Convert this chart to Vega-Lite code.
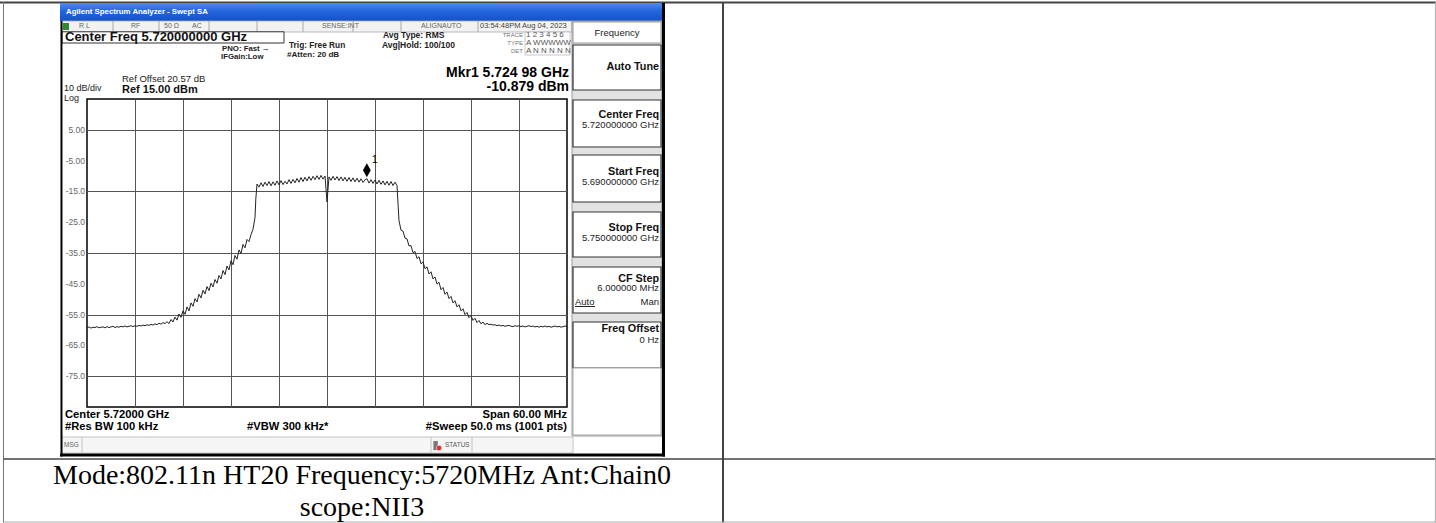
{
"$schema":"https://vega.github.io/schema/vega-lite/v6.json",
"width":480,"height":308,
"autosize":{"type":"none"},
"padding":{"left":87,"top":99,"right":869,"bottom":116},
"background":"#ffffff",
"config":{"view":{"stroke":"#000000","strokeWidth":1.5},"text":{"font":"Liberation Sans"}},
"data":{"values":[{}]},
"layer":[
{"data":{"values":[
{"f":5690.00,"p":-59.3},{"f":5690.25,"p":-59.0},{"f":5690.50,"p":-59.4},{"f":5690.75,"p":-59.1},{"f":5691.00,"p":-59.2},{"f":5691.25,"p":-58.9},{"f":5691.50,"p":-59.3},{"f":5691.75,"p":-59.1},
{"f":5692.00,"p":-59.0},{"f":5692.25,"p":-59.3},{"f":5692.50,"p":-58.9},{"f":5692.75,"p":-59.2},{"f":5693.00,"p":-59.0},{"f":5693.25,"p":-58.8},{"f":5693.50,"p":-59.2},{"f":5693.75,"p":-58.9},
{"f":5694.00,"p":-59.1},{"f":5694.25,"p":-58.8},{"f":5694.50,"p":-59.0},{"f":5694.75,"p":-58.7},{"f":5695.00,"p":-59.0},{"f":5695.25,"p":-58.8},{"f":5695.50,"p":-58.6},{"f":5695.75,"p":-58.9},
{"f":5696.00,"p":-58.6},{"f":5696.25,"p":-58.8},{"f":5696.50,"p":-58.5},{"f":5696.75,"p":-58.7},{"f":5697.00,"p":-58.4},{"f":5697.25,"p":-58.6},{"f":5697.50,"p":-58.3},{"f":5697.75,"p":-58.5},
{"f":5698.00,"p":-58.2},{"f":5698.25,"p":-58.4},{"f":5698.50,"p":-58.0},{"f":5698.75,"p":-58.3},{"f":5699.00,"p":-57.8},{"f":5699.25,"p":-58.1},{"f":5699.50,"p":-57.6},{"f":5699.75,"p":-57.9},
{"f":5700.00,"p":-57.3},{"f":5700.25,"p":-57.9},{"f":5700.50,"p":-56.6},{"f":5700.75,"p":-57.4},{"f":5701.00,"p":-55.8},{"f":5701.25,"p":-56.8},{"f":5701.50,"p":-54.8},{"f":5701.75,"p":-55.9},
{"f":5702.00,"p":-53.8},{"f":5702.25,"p":-54.9},{"f":5702.50,"p":-52.5},{"f":5702.75,"p":-53.8},{"f":5703.00,"p":-51.2},{"f":5703.25,"p":-52.3},{"f":5703.50,"p":-49.8},{"f":5703.75,"p":-50.9},
{"f":5704.00,"p":-48.4},{"f":5704.25,"p":-49.6},{"f":5704.50,"p":-47.1},{"f":5704.75,"p":-48.3},{"f":5705.00,"p":-45.9},{"f":5705.25,"p":-47.2},{"f":5705.50,"p":-44.8},{"f":5705.75,"p":-46.0},
{"f":5706.00,"p":-43.6},{"f":5706.25,"p":-44.8},{"f":5706.50,"p":-42.3},{"f":5706.75,"p":-43.4},{"f":5707.00,"p":-40.7},{"f":5707.25,"p":-42.0},{"f":5707.50,"p":-39.2},{"f":5707.75,"p":-40.5},
{"f":5708.00,"p":-37.5},{"f":5708.25,"p":-38.8},{"f":5708.50,"p":-35.8},{"f":5708.75,"p":-37.0},{"f":5709.00,"p":-34.0},{"f":5709.25,"p":-35.2},{"f":5709.50,"p":-32.2},{"f":5709.75,"p":-33.3},
{"f":5710.00,"p":-30.6},{"f":5710.25,"p":-31.3},{"f":5710.50,"p":-29.0},{"f":5710.75,"p":-27.3},{"f":5711.00,"p":-23.5},{"f":5711.10,"p":-17.5},{"f":5711.25,"p":-12.6},
{"f":5711.50,"p":-13.6},{"f":5711.75,"p":-12.2},{"f":5712.00,"p":-13.4},{"f":5712.25,"p":-12.0},{"f":5712.50,"p":-13.1},{"f":5712.75,"p":-11.8},{"f":5713.00,"p":-13.2},{"f":5713.25,"p":-11.9},
{"f":5713.50,"p":-13.0},{"f":5713.75,"p":-11.6},{"f":5714.00,"p":-12.9},{"f":5714.25,"p":-11.5},{"f":5714.50,"p":-12.8},{"f":5714.75,"p":-11.7},{"f":5715.00,"p":-12.6},{"f":5715.25,"p":-11.2},
{"f":5715.50,"p":-12.4},{"f":5715.75,"p":-11.1},{"f":5716.00,"p":-12.2},{"f":5716.25,"p":-10.8},{"f":5716.50,"p":-12.0},{"f":5716.75,"p":-10.5},{"f":5717.00,"p":-11.8},{"f":5717.25,"p":-10.4},
{"f":5717.50,"p":-11.6},{"f":5717.75,"p":-10.2},{"f":5718.00,"p":-11.4},{"f":5718.25,"p":-10.1},{"f":5718.50,"p":-11.2},{"f":5718.75,"p":-9.9},{"f":5719.00,"p":-11.1},{"f":5719.25,"p":-9.8},
{"f":5719.50,"p":-11.0},{"f":5719.75,"p":-10.0},{"f":5720.00,"p":-18.4},{"f":5720.25,"p":-10.3},{"f":5720.50,"p":-11.4},{"f":5720.75,"p":-10.1},{"f":5721.00,"p":-11.3},{"f":5721.25,"p":-10.2},
{"f":5721.50,"p":-11.5},{"f":5721.75,"p":-10.3},{"f":5722.00,"p":-11.6},{"f":5722.25,"p":-10.4},{"f":5722.50,"p":-11.7},{"f":5722.75,"p":-10.5},{"f":5723.00,"p":-11.8},{"f":5723.25,"p":-10.6},
{"f":5723.50,"p":-11.9},{"f":5723.75,"p":-10.7},{"f":5724.00,"p":-12.0},{"f":5724.25,"p":-10.9},{"f":5724.50,"p":-12.1},{"f":5724.75,"p":-11.2},{"f":5725.00,"p":-10.88},{"f":5725.25,"p":-12.3},
{"f":5725.50,"p":-11.2},{"f":5725.75,"p":-12.4},{"f":5726.00,"p":-11.3},{"f":5726.25,"p":-12.6},{"f":5726.50,"p":-11.4},{"f":5726.75,"p":-12.7},{"f":5727.00,"p":-11.6},{"f":5727.25,"p":-12.9},
{"f":5727.50,"p":-11.7},{"f":5727.75,"p":-13.0},{"f":5728.00,"p":-11.8},{"f":5728.25,"p":-13.1},{"f":5728.50,"p":-12.0},{"f":5728.75,"p":-13.1},
{"f":5728.90,"p":-20.0},{"f":5729.00,"p":-24.5},{"f":5729.25,"p":-27.6},{"f":5729.50,"p":-27.9},{"f":5729.75,"p":-30.2},{"f":5730.00,"p":-30.4},{"f":5730.25,"p":-32.7},{"f":5730.50,"p":-32.6},
{"f":5730.75,"p":-34.9},{"f":5731.00,"p":-34.5},{"f":5731.25,"p":-36.8},{"f":5731.50,"p":-36.2},{"f":5731.75,"p":-38.5},{"f":5732.00,"p":-37.9},{"f":5732.25,"p":-40.1},{"f":5732.50,"p":-39.5},
{"f":5732.75,"p":-41.8},{"f":5733.00,"p":-41.1},{"f":5733.25,"p":-43.4},{"f":5733.50,"p":-42.8},{"f":5733.75,"p":-45.1},{"f":5734.00,"p":-44.5},{"f":5734.25,"p":-46.9},{"f":5734.50,"p":-46.2},
{"f":5734.75,"p":-48.4},{"f":5735.00,"p":-47.7},{"f":5735.25,"p":-49.8},{"f":5735.50,"p":-49.1},{"f":5735.75,"p":-51.2},{"f":5736.00,"p":-50.5},{"f":5736.25,"p":-52.5},{"f":5736.50,"p":-51.8},
{"f":5736.75,"p":-53.8},{"f":5737.00,"p":-53.1},{"f":5737.25,"p":-55.0},{"f":5737.50,"p":-54.3},{"f":5737.75,"p":-56.0},{"f":5738.00,"p":-55.3},{"f":5738.25,"p":-56.9},{"f":5738.50,"p":-56.2},
{"f":5738.75,"p":-57.6},{"f":5739.00,"p":-56.9},{"f":5739.25,"p":-58.0},{"f":5739.50,"p":-57.4},{"f":5739.75,"p":-58.3},{"f":5740.00,"p":-57.8},
{"f":5740.25,"p":-58.3},{"f":5740.50,"p":-58.1},{"f":5740.75,"p":-58.4},{"f":5741.00,"p":-58.3},{"f":5741.25,"p":-58.6},{"f":5741.50,"p":-58.4},{"f":5741.75,"p":-58.7},{"f":5742.00,"p":-58.5},
{"f":5742.25,"p":-58.8},{"f":5742.50,"p":-58.6},{"f":5742.75,"p":-58.5},{"f":5743.00,"p":-58.8},{"f":5743.25,"p":-58.9},{"f":5743.50,"p":-58.6},{"f":5743.75,"p":-58.8},{"f":5744.00,"p":-58.6},
{"f":5744.25,"p":-58.9},{"f":5744.50,"p":-58.7},{"f":5744.75,"p":-59.0},{"f":5745.00,"p":-58.8},{"f":5745.25,"p":-58.6},{"f":5745.50,"p":-58.9},{"f":5745.75,"p":-58.7},{"f":5746.00,"p":-59.0},
{"f":5746.25,"p":-58.8},{"f":5746.50,"p":-59.1},{"f":5746.75,"p":-58.8},{"f":5747.00,"p":-59.0},{"f":5747.25,"p":-58.7},{"f":5747.50,"p":-59.0},{"f":5747.75,"p":-58.8},{"f":5748.00,"p":-59.1},
{"f":5748.25,"p":-58.9},{"f":5748.50,"p":-58.7},{"f":5748.75,"p":-59.0},{"f":5749.00,"p":-58.8},{"f":5749.25,"p":-59.1},{"f":5749.50,"p":-58.9},{"f":5749.75,"p":-58.7},{"f":5750.00,"p":-58.9}
]},
"mark":{"type":"line","color":"#222222","strokeWidth":1},
"encoding":{
"x":{"field":"f","type":"quantitative","scale":{"domain":[5690,5750],"nice":false,"zero":false},"axis":{"values":[5696,5702,5708,5714,5720,5726,5732,5738,5744],"labels":false,"ticks":false,"domain":false,"title":null,"grid":true,"gridColor":"#555555","gridWidth":1,"gridOpacity":1}},
"y":{"field":"p","type":"quantitative","scale":{"domain":[-85,15],"nice":false,"zero":false},"axis":{"values":[5,-5,-15,-25,-35,-45,-55,-65,-75],"labels":false,"ticks":false,"domain":false,"title":null,"grid":true,"gridColor":"#555555","gridWidth":1,"gridOpacity":1}}
}},
{"data":{"values":[{"v":5,"t":"5.00"},{"v":-5,"t":"-5.00"},{"v":-15,"t":"-15.0"},{"v":-25,"t":"-25.0"},{"v":-35,"t":"-35.0"},{"v":-45,"t":"-45.0"},{"v":-55,"t":"-55.0"},{"v":-65,"t":"-65.0"},{"v":-75,"t":"-75.0"}]},
"mark":{"type":"text","align":"right","baseline":"middle","fontSize":8.5,"fill":"#666666"},
"encoding":{"y":{"field":"v","type":"quantitative"},"x":{"datum":5689.75},"text":{"field":"t"}}},
{"data":{"values":[{"f":5724.98,"p":-10.879,"label":"1"}]},
"layer":[
{"mark":{"type":"point","shape":"M0,-1L0.55,0L0,1L-0.55,0Z","size":200,"filled":true,"color":"#000000","opacity":1,"yOffset":-8.5},"encoding":{"x":{"field":"f","type":"quantitative"},"y":{"field":"p","type":"quantitative"}}},
{"mark":{"type":"text","dx":8,"dy":-19,"fontSize":10,"color":"#000000","fill":"#000000"},"encoding":{"x":{"field":"f","type":"quantitative"},"y":{"field":"p","type":"quantitative"},"text":{"field":"label"}}}
]},

{"mark":{"type":"rule","stroke":"#444444","strokeWidth":2},"encoding":{"y":{"datum":46.33},"x":{"datum":5679.125},"x2":{"datum":5858.625}}},
{"mark":{"type":"rule","stroke":"#777777","strokeWidth":1},"encoding":{"x":{"datum":5679.56},"y":{"datum":46.49},"y2":{"datum":-122.5}}},
{"mark":{"type":"rule","stroke":"#444444","strokeWidth":2},"encoding":{"x":{"datum":5769.5},"y":{"datum":46.49},"y2":{"datum":-122.5}}},
{"mark":{"type":"rule","stroke":"#444444","strokeWidth":1.5},"encoding":{"y":{"datum":-101.88},"x":{"datum":5679.56},"x2":{"datum":5858.625}}},
{"mark":{"type":"rule","stroke":"#aaaaaa","strokeWidth":1},"encoding":{"y":{"datum":-122.34},"x":{"datum":5679.56},"x2":{"datum":5858.625}}},
{"mark":{"type":"rule","stroke":"#aaaaaa","strokeWidth":1},"encoding":{"x":{"datum":5858.55},"y":{"datum":46.49},"y2":{"datum":-122.5}}},

{"mark":{"type":"rect","fill":{"gradient":"linear","x1":0,"y1":0,"x2":0,"y2":1,"stops":[{"offset":0,"color":"#4a8ef2"},{"offset":0.45,"color":"#2366dc"},{"offset":1,"color":"#1452c9"}]}},"encoding":{"x":{"datum":5686.625},"x2":{"datum":5762.06},"y":{"datum":46.17},"y2":{"datum":40.32}}},
{"mark":{"type":"text","text":"Agilent Spectrum Analyzer - Swept SA","align":"left","baseline":"middle","fontSize":7.8,"fontWeight":"bold","fill":"#ffffff"},"encoding":{"x":{"datum":5687.375},"y":{"datum":43.25}}},

{"mark":{"type":"rect","fill":"#f2f2f2","stroke":"#aaaaaa","strokeWidth":0.8},"encoding":{"x":{"datum":5686.875},"x2":{"datum":5750.625},"y":{"datum":40.32},"y2":{"datum":36.75}}},
{"mark":{"type":"rect","fill":"#2e8b2e"},"encoding":{"x":{"datum":5687.0},"x2":{"datum":5687.75},"y":{"datum":39.68},"y2":{"datum":37.4}}},
{"mark":{"type":"rule","stroke":"#aaaaaa","strokeWidth":1},"encoding":{"x":{"datum":5693.25},"y":{"datum":40.32},"y2":{"datum":36.75}}},
{"mark":{"type":"rule","stroke":"#aaaaaa","strokeWidth":1},"encoding":{"x":{"datum":5699.0},"y":{"datum":40.32},"y2":{"datum":36.75}}},
{"mark":{"type":"rule","stroke":"#aaaaaa","strokeWidth":1},"encoding":{"x":{"datum":5705.25},"y":{"datum":40.32},"y2":{"datum":36.75}}},
{"mark":{"type":"rule","stroke":"#aaaaaa","strokeWidth":1},"encoding":{"x":{"datum":5711.25},"y":{"datum":40.32},"y2":{"datum":36.75}}},
{"mark":{"type":"rule","stroke":"#aaaaaa","strokeWidth":1},"encoding":{"x":{"datum":5717.0},"y":{"datum":40.32},"y2":{"datum":36.75}}},
{"mark":{"type":"rule","stroke":"#aaaaaa","strokeWidth":1},"encoding":{"x":{"datum":5723.25},"y":{"datum":40.32},"y2":{"datum":36.75}}},
{"mark":{"type":"rule","stroke":"#aaaaaa","strokeWidth":1},"encoding":{"x":{"datum":5729.25},"y":{"datum":40.32},"y2":{"datum":36.75}}},
{"mark":{"type":"rule","stroke":"#aaaaaa","strokeWidth":1},"encoding":{"x":{"datum":5738.875},"y":{"datum":40.32},"y2":{"datum":36.75}}},
{"mark":{"type":"text","text":"R L","align":"left","baseline":"middle","fontSize":7,"fill":"#666666"},"encoding":{"x":{"datum":5689.0},"y":{"datum":38.54}}},
{"mark":{"type":"text","text":"RF","align":"left","baseline":"middle","fontSize":7,"fill":"#666666"},"encoding":{"x":{"datum":5695.5},"y":{"datum":38.54}}},
{"mark":{"type":"text","text":"50 Ω","align":"left","baseline":"middle","fontSize":7,"fill":"#666666"},"encoding":{"x":{"datum":5699.625},"y":{"datum":38.54}}},
{"mark":{"type":"text","text":"AC","align":"left","baseline":"middle","fontSize":7,"fill":"#666666"},"encoding":{"x":{"datum":5703.125},"y":{"datum":38.54}}},
{"mark":{"type":"text","text":"SENSE:INT","align":"left","baseline":"middle","fontSize":7,"fill":"#666666"},"encoding":{"x":{"datum":5719.375},"y":{"datum":38.54}}},
{"mark":{"type":"text","text":"ALIGNAUTO","align":"left","baseline":"middle","fontSize":7,"fill":"#666666"},"encoding":{"x":{"datum":5731.75},"y":{"datum":38.54}}},
{"mark":{"type":"text","text":"03:54:48PM Aug 04, 2023","align":"left","baseline":"middle","fontSize":7.5,"fill":"#444444"},"encoding":{"x":{"datum":5739.125},"y":{"datum":38.54}}},

{"mark":{"type":"rect","fill":"#ffffff","stroke":"#333333","strokeWidth":1},"encoding":{"x":{"datum":5686.875},"x2":{"datum":5714.625},"y":{"datum":36.82},"y2":{"datum":33.18}}},
{"mark":{"type":"text","text":"Center Freq 5.720000000 GHz","align":"left","baseline":"middle","fontSize":13,"fontWeight":"bold","fill":"#111111"},"encoding":{"x":{"datum":5687.25},"y":{"datum":35.03}}},
{"mark":{"type":"text","text":"PNO: Fast  →","align":"left","baseline":"middle","fontSize":7.8,"fontWeight":"bold","fill":"#222222"},"encoding":{"x":{"datum":5706.875},"y":{"datum":31.23}}},
{"mark":{"type":"text","text":"IFGain:Low","align":"left","baseline":"middle","fontSize":7.8,"fontWeight":"bold","fill":"#222222"},"encoding":{"x":{"datum":5706.75},"y":{"datum":28.54}}},
{"mark":{"type":"text","text":"Trig: Free Run","align":"left","baseline":"middle","fontSize":8.3,"fontWeight":"bold","fill":"#222222"},"encoding":{"x":{"datum":5715.25},"y":{"datum":32.3}}},
{"mark":{"type":"text","text":"#Atten: 20 dB","align":"left","baseline":"middle","fontSize":8.1,"fontWeight":"bold","fill":"#222222"},"encoding":{"x":{"datum":5715.0},"y":{"datum":29.29}}},
{"mark":{"type":"text","text":"Avg Type: RMS","align":"left","baseline":"middle","fontSize":8.5,"fontWeight":"bold","fill":"#222222"},"encoding":{"x":{"datum":5727.0},"y":{"datum":35.78}}},
{"mark":{"type":"text","text":"Avg|Hold: 100/100","align":"left","baseline":"middle","fontSize":8.5,"fontWeight":"bold","fill":"#222222"},"encoding":{"x":{"datum":5726.875},"y":{"datum":32.53}}},

{"mark":{"type":"rect","fill":"#ffffff","stroke":"#bbbbbb","strokeWidth":0.8},"encoding":{"x":{"datum":5744.75},"x2":{"datum":5750.375},"y":{"datum":36.75},"y2":{"datum":29.29}}},
{"mark":{"type":"text","text":"TRACE","align":"right","baseline":"middle","fontSize":6,"fill":"#777777"},"encoding":{"x":{"datum":5744.5},"y":{"datum":35.78}}},
{"mark":{"type":"text","text":"TYPE","align":"right","baseline":"middle","fontSize":6,"fill":"#777777"},"encoding":{"x":{"datum":5744.5},"y":{"datum":33.28}}},
{"mark":{"type":"text","text":"DET","align":"right","baseline":"middle","fontSize":6,"fill":"#777777"},"encoding":{"x":{"datum":5744.5},"y":{"datum":30.68}}},
{"mark":{"type":"text","text":"1 2 3 4 5 6","align":"left","baseline":"middle","fontSize":8,"fill":"#555555"},"encoding":{"x":{"datum":5744.875},"y":{"datum":35.78}}},
{"mark":{"type":"text","text":"A WWWWW","align":"left","baseline":"middle","fontSize":8,"fill":"#555555"},"encoding":{"x":{"datum":5744.875},"y":{"datum":33.28}}},
{"mark":{"type":"text","text":"A N N N N N","align":"left","baseline":"middle","fontSize":8,"fill":"#555555"},"encoding":{"x":{"datum":5744.875},"y":{"datum":30.68}}},

{"mark":{"type":"text","text":"Mkr1 5.724 98 GHz","align":"right","baseline":"middle","fontSize":14,"fontWeight":"bold","fill":"#000000"},"encoding":{"x":{"datum":5750.25},"y":{"datum":23.44}}},
{"mark":{"type":"text","text":"-10.879 dBm","align":"right","baseline":"middle","fontSize":14,"fontWeight":"bold","fill":"#000000"},"encoding":{"x":{"datum":5750.25},"y":{"datum":18.8}}},
{"mark":{"type":"text","text":"Ref Offset 20.57 dB","align":"left","baseline":"middle","fontSize":9.5,"fill":"#222222"},"encoding":{"x":{"datum":5694.375},"y":{"datum":21.49}}},
{"mark":{"type":"text","text":"Ref 15.00 dBm","align":"left","baseline":"middle","fontSize":11,"fontWeight":"bold","fill":"#111111"},"encoding":{"x":{"datum":5694.375},"y":{"datum":18.08}}},
{"mark":{"type":"text","text":"10 dB/div","align":"left","baseline":"middle","fontSize":9,"fill":"#222222"},"encoding":{"x":{"datum":5687.125},"y":{"datum":18.41}}},
{"mark":{"type":"text","text":"Log","align":"left","baseline":"middle","fontSize":9,"fill":"#222222"},"encoding":{"x":{"datum":5687.125},"y":{"datum":15.32}}},

{"mark":{"type":"rect","fill":"#e2e2e2","stroke":"#999999","strokeWidth":1},"encoding":{"x":{"datum":5750.625},"x2":{"datum":5761.875},"y":{"datum":40.32},"y2":{"datum":-94.42}}},
{"mark":{"type":"rect","fill":"#ffffff","stroke":"#999999","strokeWidth":1},"encoding":{"x":{"datum":5750.75},"x2":{"datum":5761.75},"y":{"datum":40.0},"y2":{"datum":33.18}}},
{"mark":{"type":"rect","fill":"#ffffff","stroke":"#333333","strokeWidth":1.2},"encoding":{"x":{"datum":5750.75},"x2":{"datum":5761.75},"y":{"datum":32.53},"y2":{"datum":17.92}}},
{"mark":{"type":"rect","fill":"#ffffff","stroke":"#333333","strokeWidth":1.2},"encoding":{"x":{"datum":5750.75},"x2":{"datum":5761.75},"y":{"datum":14.68},"y2":{"datum":-0.58}}},
{"mark":{"type":"rect","fill":"#ffffff","stroke":"#333333","strokeWidth":1.2},"encoding":{"x":{"datum":5750.75},"x2":{"datum":5761.75},"y":{"datum":-3.18},"y2":{"datum":-18.44}}},
{"mark":{"type":"rect","fill":"#ffffff","stroke":"#333333","strokeWidth":1.2},"encoding":{"x":{"datum":5750.75},"x2":{"datum":5761.75},"y":{"datum":-21.69},"y2":{"datum":-36.3}}},
{"mark":{"type":"rect","fill":"#ffffff","stroke":"#333333","strokeWidth":1.2},"encoding":{"x":{"datum":5750.75},"x2":{"datum":5761.75},"y":{"datum":-39.55},"y2":{"datum":-54.48}}},
{"mark":{"type":"rect","fill":"#ffffff","stroke":"#333333","strokeWidth":1.2},"encoding":{"x":{"datum":5750.75},"x2":{"datum":5761.75},"y":{"datum":-57.4},"y2":{"datum":-72.34}}},
{"mark":{"type":"rect","fill":"#ffffff","stroke":"#aaaaaa","strokeWidth":1},"encoding":{"x":{"datum":5750.75},"x2":{"datum":5761.75},"y":{"datum":-72.34},"y2":{"datum":-94.09}}},
{"mark":{"type":"text","text":"Frequency","align":"center","baseline":"middle","fontSize":9.5,"fill":"#222222"},"encoding":{"x":{"datum":5756.25},"y":{"datum":36.43}}},
{"mark":{"type":"text","text":"Auto Tune","align":"right","baseline":"middle","fontSize":10.8,"fontWeight":"bold","fill":"#111111"},"encoding":{"x":{"datum":5761.5},"y":{"datum":25.39}}},
{"mark":{"type":"text","text":"Center Freq","align":"right","baseline":"middle","fontSize":10.8,"fontWeight":"bold","fill":"#111111"},"encoding":{"x":{"datum":5761.5},"y":{"datum":9.81}}},
{"mark":{"type":"text","text":"5.720000000 GHz","align":"right","baseline":"middle","fontSize":9.5,"fill":"#222222"},"encoding":{"x":{"datum":5761.5},"y":{"datum":6.56}}},
{"mark":{"type":"text","text":"Start Freq","align":"right","baseline":"middle","fontSize":10.8,"fontWeight":"bold","fill":"#111111"},"encoding":{"x":{"datum":5761.5},"y":{"datum":-8.6}}},
{"mark":{"type":"text","text":"5.690000000 GHz","align":"right","baseline":"middle","fontSize":9.5,"fill":"#222222"},"encoding":{"x":{"datum":5761.5},"y":{"datum":-11.85}}},
{"mark":{"type":"text","text":"Stop Freq","align":"right","baseline":"middle","fontSize":10.8,"fontWeight":"bold","fill":"#111111"},"encoding":{"x":{"datum":5761.5},"y":{"datum":-26.79}}},
{"mark":{"type":"text","text":"5.750000000 GHz","align":"right","baseline":"middle","fontSize":9.5,"fill":"#222222"},"encoding":{"x":{"datum":5761.5},"y":{"datum":-30.03}}},
{"mark":{"type":"text","text":"CF Step","align":"right","baseline":"middle","fontSize":10.8,"fontWeight":"bold","fill":"#111111"},"encoding":{"x":{"datum":5761.5},"y":{"datum":-43.44}}},
{"mark":{"type":"text","text":"6.000000 MHz","align":"right","baseline":"middle","fontSize":9.5,"fill":"#222222"},"encoding":{"x":{"datum":5761.5},"y":{"datum":-46.46}}},
{"mark":{"type":"text","text":"Man","align":"right","baseline":"middle","fontSize":9.5,"fill":"#222222"},"encoding":{"x":{"datum":5761.5},"y":{"datum":-51.01}}},
{"mark":{"type":"text","text":"Auto","align":"left","baseline":"middle","fontSize":9.5,"fill":"#222222"},"encoding":{"x":{"datum":5751.0},"y":{"datum":-51.01}}},
{"mark":{"type":"rule","stroke":"#222222","strokeWidth":1},"encoding":{"y":{"datum":-52.37},"x":{"datum":5751.0},"x2":{"datum":5753.5}}},
{"mark":{"type":"text","text":"Freq Offset","align":"right","baseline":"middle","fontSize":10.8,"fontWeight":"bold","fill":"#111111"},"encoding":{"x":{"datum":5761.5},"y":{"datum":-59.77}}},
{"mark":{"type":"text","text":"0 Hz","align":"right","baseline":"middle","fontSize":9.5,"fill":"#222222"},"encoding":{"x":{"datum":5761.5},"y":{"datum":-63.25}}},

{"mark":{"type":"text","text":"Center 5.72000 GHz","align":"left","baseline":"middle","fontSize":11.2,"fontWeight":"bold","fill":"#000000"},"encoding":{"x":{"datum":5687.25},"y":{"datum":-87.6}}},
{"mark":{"type":"text","text":"#Res BW 100 kHz","align":"left","baseline":"middle","fontSize":11.2,"fontWeight":"bold","fill":"#000000"},"encoding":{"x":{"datum":5687.25},"y":{"datum":-91.49}}},
{"mark":{"type":"text","text":"#VBW 300 kHz*","align":"left","baseline":"middle","fontSize":11.2,"fontWeight":"bold","fill":"#000000"},"encoding":{"x":{"datum":5710.0},"y":{"datum":-91.49}}},
{"mark":{"type":"text","text":"Span 60.00 MHz","align":"right","baseline":"middle","fontSize":11.2,"fontWeight":"bold","fill":"#000000"},"encoding":{"x":{"datum":5750.0},"y":{"datum":-87.6}}},
{"mark":{"type":"text","text":"#Sweep  50.0 ms (1001 pts)","align":"right","baseline":"middle","fontSize":11.2,"fontWeight":"bold","fill":"#000000"},"encoding":{"x":{"datum":5750.0},"y":{"datum":-91.49}}},

{"mark":{"type":"rect","fill":"#f5f5f5","stroke":"#c4c4c4","strokeWidth":1},"encoding":{"x":{"datum":5686.875},"x2":{"datum":5750.75},"y":{"datum":-94.74},"y2":{"datum":-99.94}}},
{"mark":{"type":"rule","stroke":"#c4c4c4","strokeWidth":1},"encoding":{"x":{"datum":5689.375},"y":{"datum":-94.74},"y2":{"datum":-99.94}}},
{"mark":{"type":"rule","stroke":"#c4c4c4","strokeWidth":1},"encoding":{"x":{"datum":5733.0},"y":{"datum":-94.74},"y2":{"datum":-99.94}}},
{"mark":{"type":"rule","stroke":"#c4c4c4","strokeWidth":1},"encoding":{"x":{"datum":5738.125},"y":{"datum":-94.74},"y2":{"datum":-99.94}}},
{"mark":{"type":"text","text":"MSG","align":"left","baseline":"middle","fontSize":6.5,"fill":"#666666"},"encoding":{"x":{"datum":5687.125},"y":{"datum":-97.34}}},
{"mark":{"type":"rect","fill":"#777777"},"encoding":{"x":{"datum":5733.3},"x2":{"datum":5733.85},"y":{"datum":-96.06},"y2":{"datum":-98.99}}},
{"mark":{"type":"point","shape":"circle","size":30,"filled":true,"fill":"#e03030","stroke":"#ffffff","strokeWidth":0.5,"opacity":1},"encoding":{"x":{"datum":5734.0},"y":{"datum":-98.3}}},
{"mark":{"type":"text","text":"STATUS","align":"left","baseline":"middle","fontSize":6.5,"fill":"#555555"},"encoding":{"x":{"datum":5734.75},"y":{"datum":-97.34}}},

{"mark":{"type":"rule","stroke":"#000000","strokeWidth":2},"encoding":{"x":{"datum":5686.81},"y":{"datum":40.32},"y2":{"datum":-101.07}}},
{"mark":{"type":"rule","stroke":"#000000","strokeWidth":3},"encoding":{"x":{"datum":5762.06},"y":{"datum":46.17},"y2":{"datum":-101.07}}},
{"mark":{"type":"rule","stroke":"#000000","strokeWidth":3},"encoding":{"y":{"datum":-100.58},"x":{"datum":5686.625},"x2":{"datum":5762.25}}},

{"mark":{"type":"text","text":"Mode:802.11n HT20 Frequency:5720MHz Ant:Chain0","align":"center","baseline":"alphabetic","font":"Liberation Serif","fontSize":28,"fill":"#000000"},"encoding":{"x":{"datum":5724.375},"y":{"datum":-110.0}}},
{"mark":{"type":"text","text":"scope:NII3","align":"center","baseline":"alphabetic","font":"Liberation Serif","fontSize":28,"fill":"#000000"},"encoding":{"x":{"datum":5724.375},"y":{"datum":-120.39}}}
]
}
